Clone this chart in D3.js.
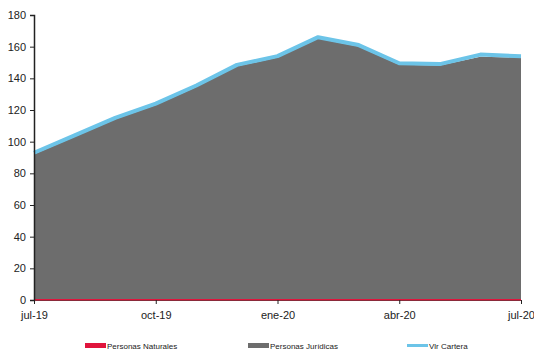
<!DOCTYPE html>
<html>
<head>
<meta charset="utf-8">
<script src="https://cdn.jsdelivr.net/npm/d3@7"></script>
<style>
  body { margin: 0; background: #fff; }
  svg { display: block; font-family: "Liberation Sans", Arial, sans-serif; }
</style>
</head>
<body>
<div id="chart"></div>
<script>
// months jul-19 .. jul-20
const months = ['jul-19', 'ago-19', 'sep-19', 'oct-19', 'nov-19', 'dic-19', 'ene-20',
  'feb-20', 'mar-20', 'abr-20', 'may-20', 'jun-20', 'jul-20'];
const tickLabels = ['jul-19', 'oct-19', 'ene-20', 'abr-20', 'jul-20'];
const naturales = [0.6, 0.6, 0.6, 0.6, 0.6, 0.6, 0.6, 0.6, 0.6, 0.6, 0.6, 0.6, 0.6];
const juridicas = [91.5, 102.5, 113.5, 122.5, 134, 147, 152.5, 164.5, 159.5, 148, 147.5, 153, 152.5];
const cartera = [93, 104, 115, 124, 135.5, 148.5, 154, 166, 161, 149.5, 149, 155, 154];
const yTicks = [0, 20, 40, 60, 80, 100, 120, 140, 160, 180];

const width = 534, height = 352;
const margin = { left: 34, right: 13, top: 15, bottom: 52 };

const svg = d3.select('#chart').append('svg')
  .attr('width', width)
  .attr('height', height);

const x = d3.scalePoint()
  .domain(months)
  .range([margin.left, width - margin.right]);

const y = d3.scaleLinear()
  .domain([0, 180])
  .range([height - margin.bottom, margin.top]);

// Stacked areas: naturales at the bottom, juridicas on top
const rows = months.map((m, i) => ({ m: m, nat: naturales[i], jur: juridicas[i] }));
const stack = d3.stack().keys(['nat', 'jur'])(rows);
const colors = { nat: '#e0143c', jur: '#6d6d6d' };

const area = d3.area()
  .x(d => x(d.data.m))
  .y0(d => y(d[0]))
  .y1(d => y(d[1]));

svg.selectAll('path.layer')
  .data(stack.slice().reverse())
  .join('path')
  .attr('class', 'layer')
  .attr('fill', d => colors[d.key])
  .attr('d', area);

// Vlr Cartera line
const line = d3.line()
  .x((d, i) => x(months[i]))
  .y(d => y(d));

svg.append('path')
  .datum(cartera)
  .attr('fill', 'none')
  .attr('stroke', '#6cc4e8')
  .attr('stroke-width', 4)
  .attr('stroke-linejoin', 'round')
  .attr('d', line);

// Y axis
const yAxis = svg.append('g')
  .attr('transform', 'translate(' + margin.left + ',0)')
  .call(d3.axisLeft(y).tickValues(yTicks).tickSize(4).tickPadding(4));
yAxis.select('.domain').attr('stroke', '#222').attr('stroke-width', 1.5);
yAxis.selectAll('.tick line').attr('stroke', '#222');
yAxis.selectAll('text').attr('font-size', 11).attr('fill', '#222');

// X axis
const xAxis = svg.append('g')
  .attr('transform', 'translate(0,' + (height - margin.bottom) + ')')
  .call(d3.axisBottom(x).tickValues(tickLabels).tickSize(4).tickPadding(7));
xAxis.select('.domain').attr('stroke', '#8a2a3a').attr('stroke-width', 1);
xAxis.selectAll('.tick line').attr('stroke', '#222');
xAxis.selectAll('text').attr('font-size', 11).attr('fill', '#222');

// Legend
const legendItems = [
  { label: 'Personas Naturales', color: '#e0143c', type: 'rect', x: 85 },
  { label: 'Personas Jurídicas', color: '#6d6d6d', type: 'rect', x: 248 },
  { label: 'Vlr Cartera', color: '#6cc4e8', type: 'line', x: 407 }
];
const legend = svg.append('g').attr('transform', 'translate(0,346)');
legendItems.forEach(item => {
  const g = legend.append('g').attr('transform', 'translate(' + item.x + ',0)');
  if (item.type === 'rect') {
    g.append('rect').attr('x', 0).attr('y', -3).attr('width', 21).attr('height', 5).attr('fill', item.color);
  } else {
    g.append('line').attr('x1', 0).attr('x2', 21).attr('y1', -0.5).attr('y2', -0.5)
      .attr('stroke', item.color).attr('stroke-width', 3);
  }
  g.append('text')
    .attr('x', 22)
    .attr('y', 3)
    .attr('font-size', 8)
    .attr('fill', '#222')
    .text(item.label);
});
</script>
</body>
</html>
